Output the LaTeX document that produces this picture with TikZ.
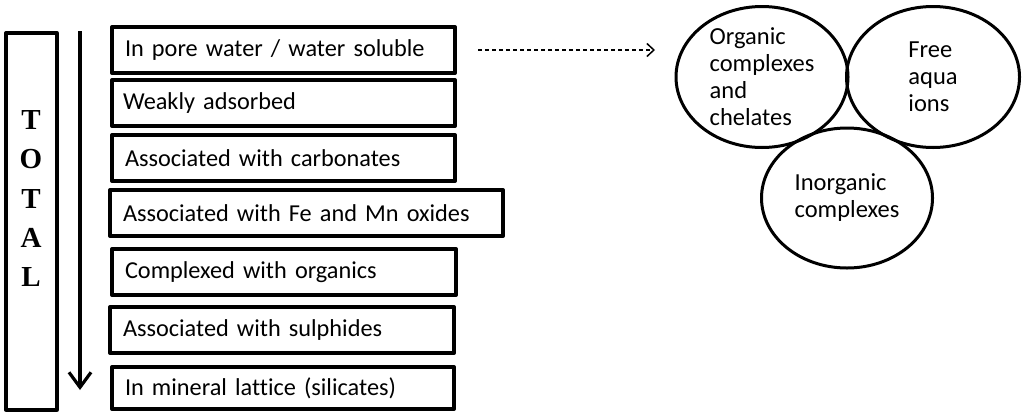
\documentclass[tikz,border=0pt]{standalone}
\usepackage{fontspec}
\setmainfont[Ligatures=NoCommon]{Carlito}
\newfontfamily\totalfont{Liberation Serif}
\usetikzlibrary{arrows.meta,shapes.geometric}

\tikzset{
  fraction/.style={draw, line width=4pt, outer sep=0pt, inner xsep=13pt, inner ysep=0pt,
    minimum height=46pt, anchor=north west, align=left, font=\fontsize{24.3}{27}\selectfont},
  species/.style={draw, ellipse, line width=3pt, outer sep=0pt, inner sep=0pt,
    align=left, font=\fontsize{24.5}{27}\selectfont}
}

\begin{document}
\begin{tikzpicture}[x=1pt, y=-1pt, line join=round]
\useasboundingbox (0,0) rectangle (1024,418);
% left: total column
\node[draw, line width=3.3pt, outer sep=0pt, minimum width=51pt, minimum height=377pt,
  anchor=north west] (totalbox) at (6,33) {};
\node[font=\totalfont\bfseries\fontsize{29}{39.25}\selectfont, align=center] (totaltext) at (31,198.5) {T\\O\\T\\A\\L};
\coordinate (flowtop) at (80,31);
\coordinate (flowend) at (80,390);
\draw[line width=3.2pt, -{Straight Barb[length=15pt,width=22pt]}] (flowtop) -- (flowend);
% center: fractions
\node[fraction, text width=317pt] (pw) at (112,27) {In pore water / water soluble};
\node[fraction, inner xsep=11pt, text width=321pt] (wa) at (112,80) {Weakly adsorbed};
\node[fraction, text width=317pt] (carb) at (112,135) {Associated with carbonates};
\node[fraction, text width=367pt] (oxid) at (110,190) {Associated with Fe and Mn oxides};
\node[fraction, text width=318pt] (orgc) at (112,249) {Complexed with organics};
\node[fraction, text width=318pt] (sulf) at (110,307) {Associated with sulphides};
\node[fraction, text width=316pt, minimum height=42pt] (sil) at (112,367) {In mineral lattice (silicates)};
% right: species in solution
\node[species, minimum width=172pt, minimum height=141pt] (org) at (762,77) {Organic\\complexes\\and\\chelates};
\node[species, minimum width=173pt, minimum height=141pt] (free) at (933,77) {Free\\aqua\\ions};
\node[species, minimum width=171pt, minimum height=140pt] (inorg) at (847,198) {Inorganic\\complexes};
% arrow
\draw[line width=1.5pt, dash pattern=on 4pt off 3pt, -{Straight Barb[length=7pt,width=13pt]},
  shorten <=23pt, shorten >=21pt] (pw.east) -- (pw.east -| org.west);
\end{tikzpicture}
\end{document}
